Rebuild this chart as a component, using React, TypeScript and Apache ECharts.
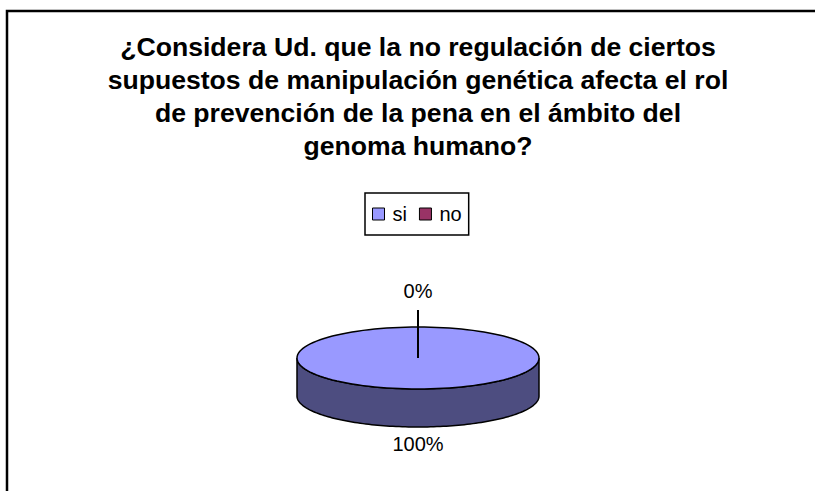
import React, { useEffect, useRef } from "react";
import * as echarts from "echarts";

const titleLines = [
  "¿Considera Ud. que la no regulación de ciertos",
  "supuestos de manipulación genética afecta el rol",
  "de prevención de la pena en el ámbito del",
  "genoma humano?",
];
const categories = ["si", "no"];
const values = [100, 0];
const topColors = ["#9999FF", "#993366"];
const sideColors = ["#4D4D80", "#4D1A33"];

const FONT = "Liberation Sans, Arial, sans-serif";

export default function App() {
  const ref = useRef<HTMLDivElement>(null);
  useEffect(() => {
    document.body.style.margin = "0";
    const chart = echarts.init(ref.current!, null, { renderer: "svg" });
    const total = values.reduce((a, b) => a + b, 0);
    const cx = 418, cy = 358, rx = 121, ry = 31, depth = 38;
    const pt = (t: number, dy = 0) => [cx + rx * Math.sin(t), cy - ry * Math.cos(t) + dy];

    const series = categories.map((name, si) => ({
      type: "custom",
      name,
      coordinateSystem: "none",
      data: [[values[si]]],
      itemStyle: { color: topColors[si] },
      renderItem: (params: any, api: any) => {
        const v = api.value(0);
        let before = 0;
        for (let i = 0; i < si; i++) before += values[i];
        const a0 = (before / total) * Math.PI * 2;
        const a1 = ((before + v) / total) * Math.PI * 2;
        const children: any[] = [];
        const N = 120;
        const s = Math.max(a0, Math.PI / 2);
        const e = Math.min(a1, (Math.PI * 3) / 2);
        if (e > s) {
          const topPts: number[][] = [];
          const botPts: number[][] = [];
          for (let k = 0; k <= N; k++) {
            const t = s + ((e - s) * k) / N;
            topPts.push(pt(t));
            botPts.push(pt(t, depth));
          }
          children.push({
            type: "polygon",
            shape: { points: topPts.concat(botPts.reverse()) },
            style: { fill: sideColors[si], stroke: "#000", lineWidth: 1.5 },
          });
        }
        if (a1 > a0) {
          const pts: number[][] = [];
          const full = a1 - a0 >= Math.PI * 2 - 1e-6;
          if (!full) pts.push([cx, cy]);
          for (let k = 0; k <= N; k++) pts.push(pt(a0 + ((a1 - a0) * k) / N));
          children.push({
            type: "polygon",
            shape: { points: pts },
            style: { fill: topColors[si], stroke: "#000", lineWidth: 1.5 },
          });
        }
        const mid = (a0 + a1) / 2;
        const pct = Math.round((v / total) * 100) + "%";
        const front = Math.cos(mid) < 0;
        const small = v / total < 0.05;
        let lx = cx + (rx + 14) * Math.sin(mid);
        let ly = front ? cy + ry + depth + 17 : cy - ry - 36;
        if (small) {
          children.push({
            type: "line",
            shape: { x1: cx, y1: cy, x2: cx, y2: cy - ry - 17 },
            style: { stroke: "#000", lineWidth: 2 },
          });
          lx = cx;
          ly = cy - ry - 36;
        }
        children.push({
          type: "text",
          x: lx,
          y: ly,
          style: {
            text: pct,
            font: `20px ${FONT}`,
            fill: "#000",
            align: "center",
            verticalAlign: "middle",
          },
        });
        return { type: "group", children };
      },
    }));

    chart.setOption({
      animation: false,
      backgroundColor: "#fff",
      legend: {
        data: categories,
        top: 193,
        left: 365,
        orient: "horizontal",
        icon: "rect",
        itemWidth: 12,
        itemHeight: 12,
        itemGap: 12,
        padding: [11, 7, 11, 7],
        borderColor: "#000",
        borderWidth: 1.5,
        textStyle: { fontFamily: FONT, fontSize: 20, color: "#000", padding: [0, 0, 0, 3] },
        itemStyle: { borderColor: "#000", borderWidth: 1 },
        selectedMode: false,
      },
      graphic: [
        {
          type: "polyline",
          shape: { points: [[7, 491], [7, 11], [815, 11]] },
          style: { stroke: "#000", lineWidth: 2.5, fill: "none" },
        },
        {
          type: "text",
          x: 418,
          y: 31,
          style: {
            text: titleLines.join("\n"),
            font: `bold 26.6px ${FONT}`,
            lineHeight: 32.8,
            fill: "#000",
            align: "center",
          },
        },
      ],
      series,
    });
    return () => chart.dispose();
  }, []);
  return <div ref={ref} style={{ width: 815, height: 491 }} />;
}
